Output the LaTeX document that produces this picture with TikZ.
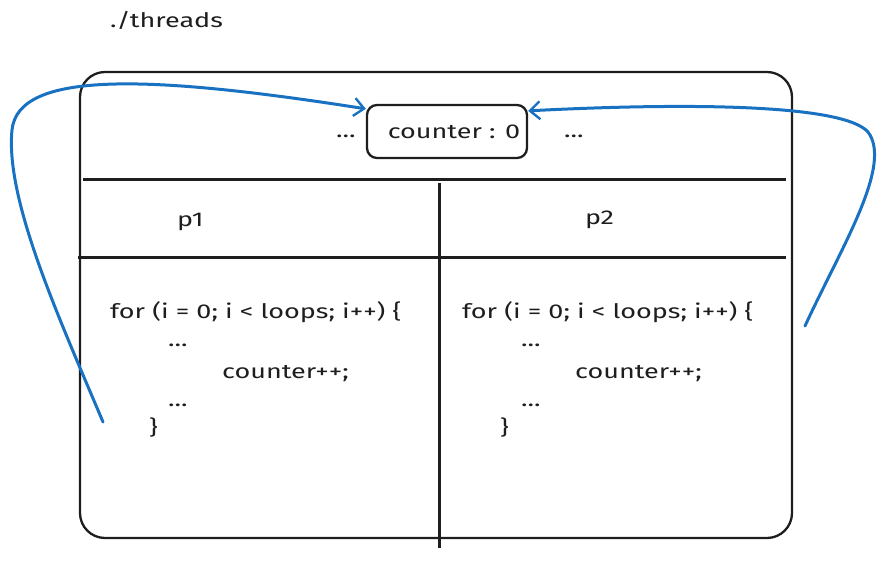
\documentclass[tikz,border=0pt]{standalone}
\usepackage{fontspec}
\setmainfont{Fira Sans}[FakeStretch=1.35]
\usetikzlibrary{arrows.meta,calc}
\definecolor{ink}{HTML}{1E1E1E}
\definecolor{arrowblue}{HTML}{1971C2}
\tikzset{
  txt/.style={anchor=base west,inner sep=0pt,text=ink,font=\fontsize{20}{24}\selectfont},
  frame/.style={draw=ink,line width=2.3pt},
  divider/.style={draw=ink,line width=3pt},
  flow/.style={draw=arrowblue,line width=3pt,line cap=round,-{Straight Barb[length=10pt,width=18pt,line width=2.4pt]}},
}
\begin{document}
\begin{tikzpicture}[x=1pt,y=-1pt]
\useasboundingbox (0,0) rectangle (892,560);
% title
\node[txt] (title) at (110,27) {./threads};
% outer frame
\draw[frame,rounded corners=25pt] (80,72) rectangle (792,538);
% dividers
\draw[divider] (83,179) -- (786,179);
\draw[divider] (78,257) -- (786,257);
\draw[divider] (439,183) -- (439,548);
% counter box
\node[draw=ink,line width=2.3pt,rounded corners=10pt,minimum width=160pt,minimum height=53pt,inner sep=0pt,text=ink,font=\fontsize{20}{24}\selectfont] (counter) at (447,131.5) {\hspace*{14pt}counter : 0};
\node[txt] (dotsL) at (336,137) {...};
\node[txt] (dotsR) at (564,137) {...};
% headers
\node[txt] (p1) at (177,226) {p1};
\node[txt] (p2) at (585,224) {p2};
% left code
\node[txt] (l1) at (110,318) {for (i = 0; i < loops; i++) \{};
\node[txt] (l2) at (168,346) {...};
\node[txt] (l3) at (222,378) {counter++;};
\node[txt] (l4) at (168,406) {...};
\node[txt] (l5) at (149,434) {\}};
% right code
\node[txt] (r1) at (462,318) {for (i = 0; i < loops; i++) \{};
\node[txt] (r2) at (521,346) {...};
\node[txt] (r3) at (575,378) {counter++;};
\node[txt] (r4) at (521,406) {...};
\node[txt] (r5) at (500,434) {\}};
% arrows
\coordinate (sL) at (103,422);
\coordinate (sR) at (805,326);
\draw[flow] (sL) .. controls (60,320) and (5,200) .. (12,130)
  .. controls (18,70) and (150,75) .. ([yshift=-5pt]counter.north west);
\draw[flow] (sR) .. controls (840,250) and (890,170) .. (870,135)
  .. controls (855,105) and (700,102) .. ([yshift=-7pt]counter.north east);
\end{tikzpicture}
\end{document}
